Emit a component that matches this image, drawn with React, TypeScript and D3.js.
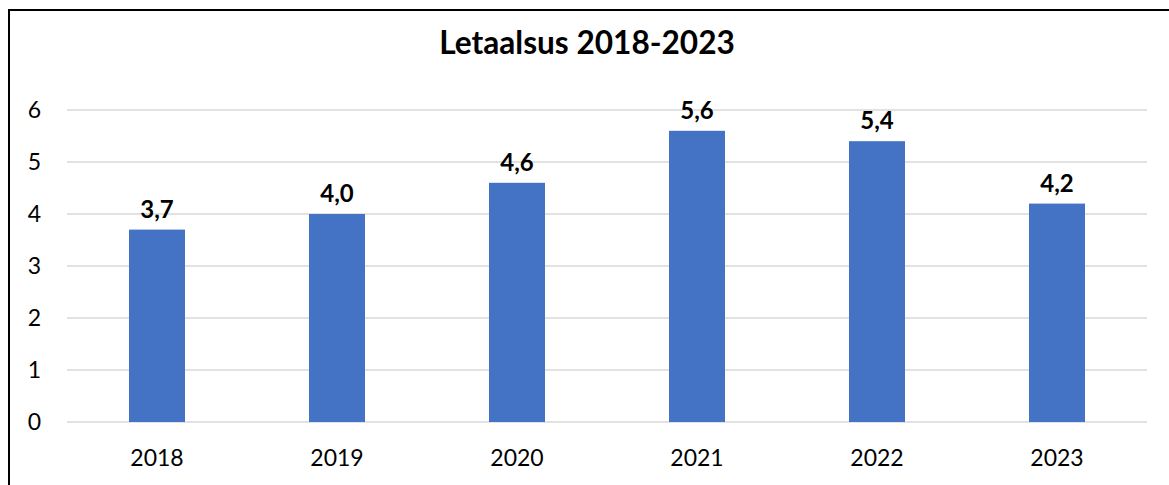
import React from "react";
import * as d3 from "d3";

const years = ["2018", "2019", "2020", "2021", "2022", "2023"];
const values = [3.7, 4.0, 4.6, 5.6, 5.4, 4.2];
const yTicks = [0, 1, 2, 3, 4, 5, 6];
const title = "Letaalsus 2018-2023";

export default function App() {
  const W = 1169;
  const H = 485;
  const x = d3
    .scaleBand<string>()
    .domain(years)
    .range([67, 1147])
    .paddingInner(0.6889)
    .paddingOuter(0.6889 / 2);
  const y = d3.scaleLinear().domain([0, 6]).range([422, 110]);
  const font = "Lato, 'Noto Sans', sans-serif";
  const fmt = (v: number) => v.toFixed(1).replace(".", ",");
  return (
    <div style={{ position: "absolute", left: 0, top: 0 }}>
      <svg width={W} height={H} style={{ display: "block" }}>
        <rect x={0} y={0} width={W} height={H} fill="#fff" />
        <rect x={9} y={10} width={W + 20} height={H + 20} fill="none" stroke="#000" strokeWidth={2} />
        <text x={587} y={54} textAnchor="middle" fontFamily={font} fontWeight="bold" fontSize={31.6} fill="#000">
          {title}
        </text>
        {yTicks.map((t) => (
          <g key={t}>
            <line x1={67} x2={1147} y1={y(t)} y2={y(t)} stroke="#d9d9d9" strokeWidth={1.5} />
            <text x={41} y={y(t) + 8} textAnchor="end" fontFamily={font} fontSize={23} fill="#000">
              {t}
            </text>
          </g>
        ))}
        {years.map((yr, i) => (
          <g key={yr}>
            <rect x={x(yr)} y={y(values[i])} width={x.bandwidth()} height={y(0) - y(values[i])} fill="#4472c4" />
            <text
              x={(x(yr) as number) + x.bandwidth() / 2}
              y={y(values[i]) - 12}
              textAnchor="middle"
              fontFamily={font}
              fontWeight="bold"
              fontSize={24}
              fill="#000"
            >
              {fmt(values[i])}
            </text>
            <text
              x={(x(yr) as number) + x.bandwidth() / 2}
              y={466}
              textAnchor="middle"
              fontFamily={font}
              fontSize={23}
              fill="#000"
            >
              {yr}
            </text>
          </g>
        ))}
      </svg>
    </div>
  );
}
